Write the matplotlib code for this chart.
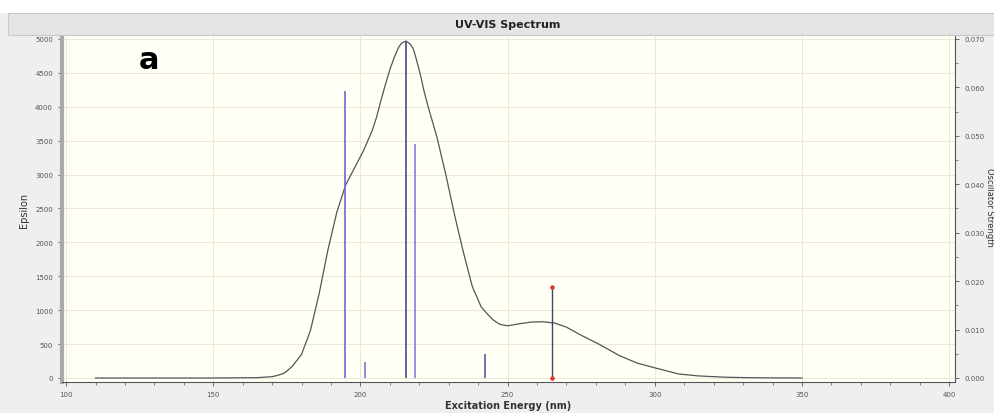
import numpy as np
import matplotlib.pyplot as plt
from matplotlib.patches import Rectangle

# spectrum curve (wavelength nm, epsilon)
wl = [110, 150, 165, 170, 172, 174, 175.5, 177, 180, 183, 186, 189, 192, 195, 198,
      201, 204, 205.5, 207, 208.5, 210, 211.5, 213, 214, 215.5, 217, 218, 219, 220.5,
      221.5, 223, 226, 229, 232, 235, 238, 241, 243, 245, 247, 248, 250, 254, 258,
      262, 266, 270, 275, 281, 288, 294, 300, 308, 315, 325, 335, 350]
eps = [0, 0, 5, 20, 40, 70, 120, 180, 350, 700, 1250, 1900, 2450, 2850, 3100,
       3350, 3650, 3850, 4100, 4330, 4550, 4730, 4880, 4940, 4970, 4920, 4850, 4700, 4450,
       4250, 4000, 3550, 3000, 2400, 1850, 1350, 1050, 950, 860, 800, 785, 770, 800, 825,
       830, 810, 750, 630, 500, 330, 220, 150, 60, 30, 10, 3, 0]

# excitations (nm, oscillator strength)
stick_wl = [194.9, 201.4, 215.6, 218.4, 242.2]
stick_f = [0.0593, 0.0033, 0.0695, 0.0483, 0.0050]
stick_col = ['#6b6bd6', '#7a7ad0', '#4a4a8a', '#8080e0', '#5a5aa0']
sel_wl = 265.0
sel_f = 0.0188

fig = plt.figure(figsize=(9.94, 4.14), dpi=100, facecolor='#efefef')
# white strip at top and grey title bar
fig.patches.append(Rectangle((0, 1 - 14 / 414), 1, 14 / 414, transform=fig.transFigure,
                             facecolor='white', edgecolor='none', zorder=0))
fig.patches.append(Rectangle((8 / 994, 1 - 36 / 414), 1, 22 / 414, transform=fig.transFigure,
                             facecolor='#e4e4e4', edgecolor='#c8c8c8', lw=0.8, zorder=0))
fig.text(0.511, 1 - 25 / 414, 'UV-VIS Spectrum', ha='center', va='center',
         fontsize=8, fontweight='bold', color='#222222')

ax = fig.add_axes([62 / 994, 1 - 383 / 414, (955 - 62) / 994, (383 - 37) / 414])
ax.set_facecolor('#fffff5')
ax.set_xlim(98.6, 402)
ax.set_ylim(-59, 5044)

ax2 = ax.twinx()
ax2.set_ylim(-59 * 1.4e-5, 5044 * 1.4e-5)

ax.grid(True, color='#ece8d6', lw=0.7)
ax.set_axisbelow(True)

ax.plot(wl, eps, color='#555555', lw=0.9, zorder=3)

ax2.vlines(stick_wl, 0, stick_f, colors=stick_col, lw=1.2, zorder=2)
ax2.vlines([sel_wl], 0, [sel_f], colors='#45455a', lw=1.0, zorder=2)
ax2.plot([sel_wl, sel_wl], [0, sel_f], 'o', color='#e03030', ms=2.2, zorder=4)

ax.set_xticks(np.arange(100, 401, 50))
ax.set_xticks(np.arange(100, 401, 10), minor=True)
ax.set_yticks(np.arange(0, 5001, 500))
ax2.set_yticks(np.arange(0, 0.0701, 0.01))
ax2.set_yticks(np.arange(0, 0.0701, 0.005), minor=True)
ax2.set_yticklabels(['%.3f' % v for v in np.arange(0, 0.0701, 0.01)])

for a in (ax, ax2):
    a.tick_params(labelsize=5, colors='#555555', length=3, width=0.6)
    a.tick_params(which='minor', length=2, width=0.5, colors='#555555')
    a.spines['top'].set_visible(False)

ax.spines['left'].set_color('#aaaaaa')
ax.spines['left'].set_linewidth(3)
ax.spines['bottom'].set_color('#555555')
ax.spines['bottom'].set_linewidth(0.8)
ax.spines['right'].set_visible(False)
ax2.spines['left'].set_visible(False)
ax2.spines['bottom'].set_visible(False)
ax2.spines['right'].set_color('#555555')
ax2.spines['right'].set_linewidth(0.8)

ax.set_xlabel('Excitation Energy (nm)', fontsize=7, fontweight='bold', color='#333333', labelpad=2)
ax.set_ylabel('Epsilon', fontsize=7, color='#333333', labelpad=4)
# right label squeezed against the edge
fig.text(985 / 994, 0.5, 'Oscillator Strength', rotation=-90, ha='left', va='center',
         fontsize=6, color='#333333')

ax.text(128, 4700, 'a', fontsize=22, fontweight='bold', ha='center', va='center', color='black')

fig.savefig('out.png', dpi=100, facecolor=fig.get_facecolor())
